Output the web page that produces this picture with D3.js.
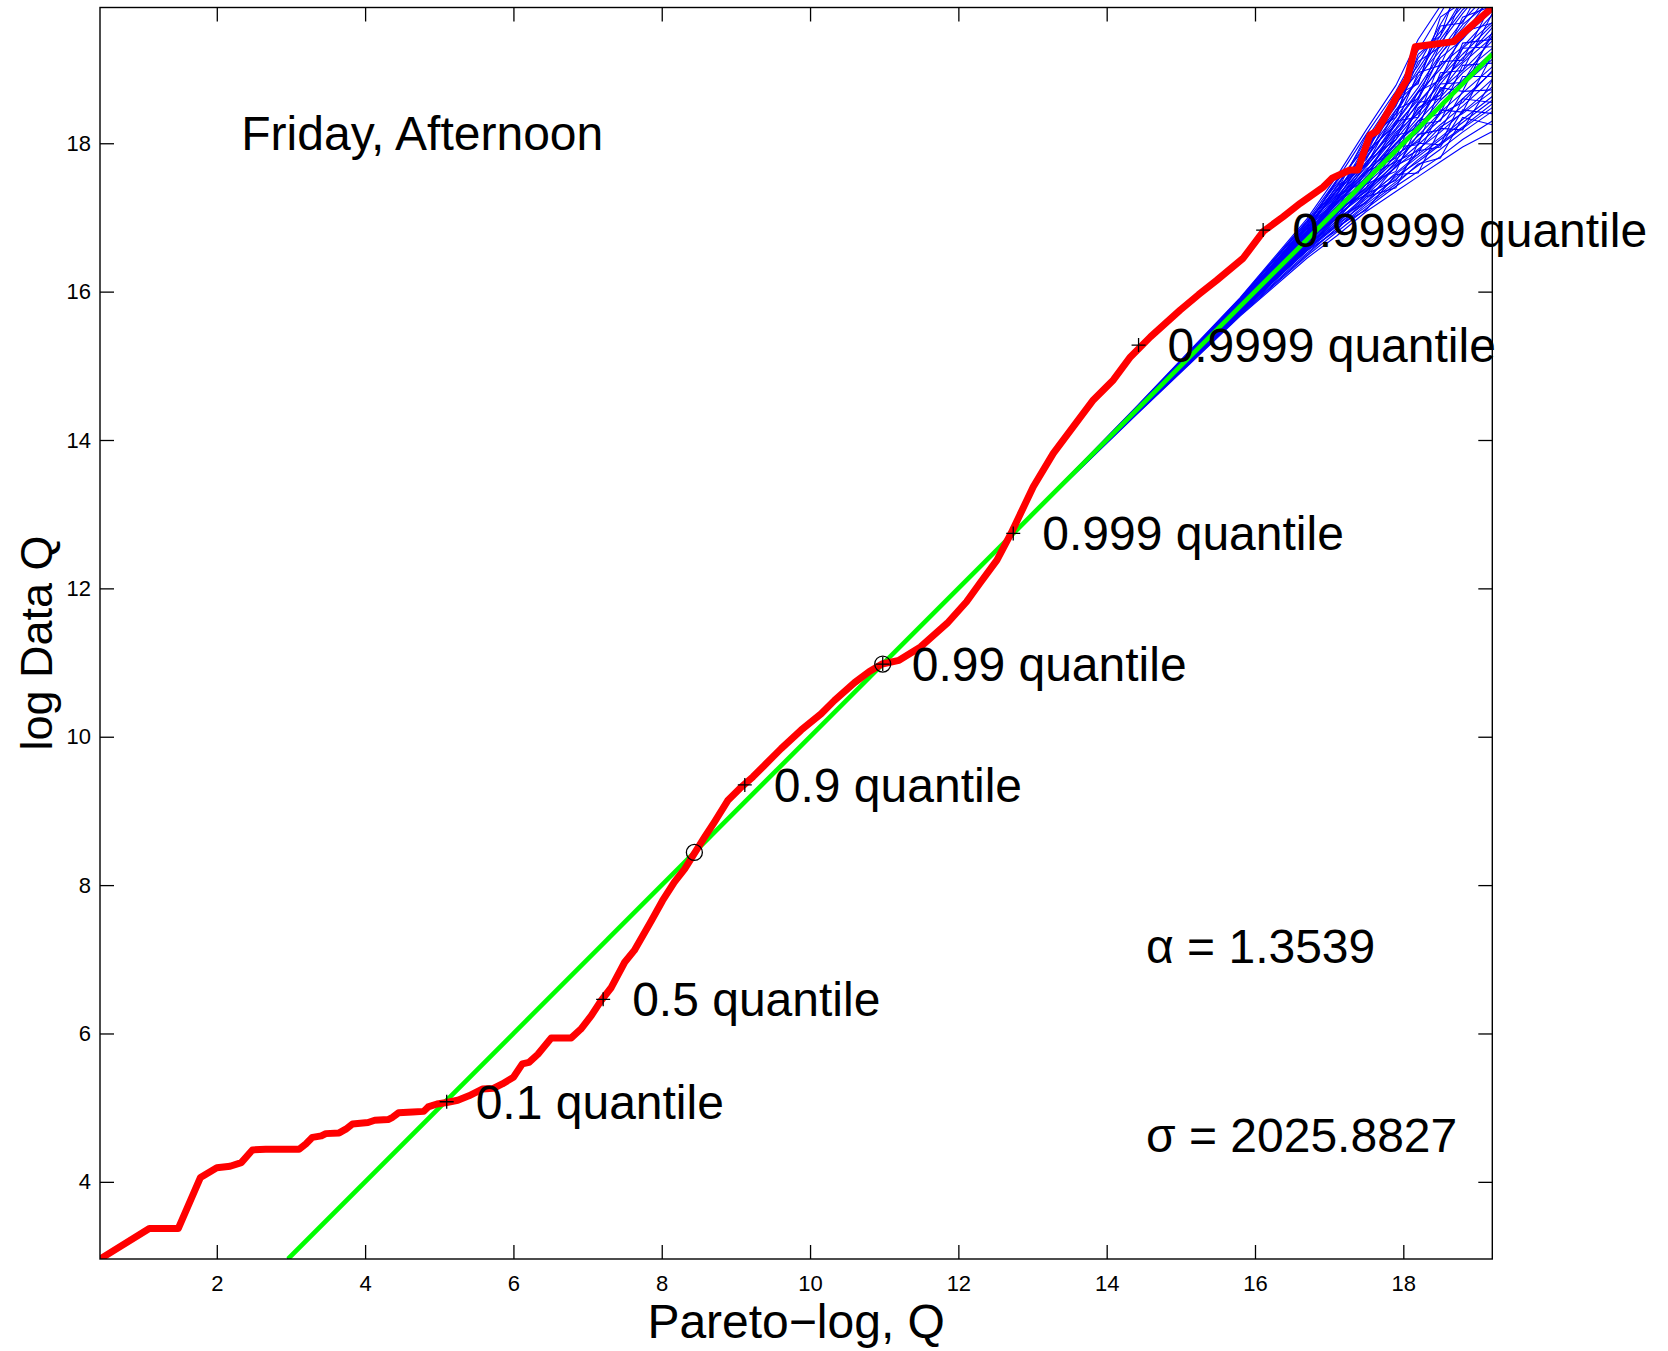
<!DOCTYPE html>
<html>
<head>
<meta charset="utf-8">
<script src="https://cdn.jsdelivr.net/npm/d3@7"></script>
<style>
  body { margin: 0; background: #fff; }
  svg { display: block; font-family: "Liberation Sans", Arial, Helvetica, sans-serif; }
  .tick text { font-size: 22px; fill: #000; }
  .tick line { stroke: #000; stroke-width: 1.3; }
  .big { font-size: 48px; fill: #000; }
</style>
</head>
<body>
<div id="chart"></div>
<script>
// Axis ticks and limits
const xTicks = [2, 4, 6, 8, 10, 12, 14, 16, 18];
const yTicks = [4, 6, 8, 10, 12, 14, 16, 18];
const xLimits = [0.425, 19.2];
const yLimits = [2.96, 19.83];

// Observed data (red)
const redX = [0.425, 1.09, 1.48, 1.78, 2.0, 2.18, 2.33, 2.48, 2.66, 3.11, 3.2, 3.29, 3.41, 3.47, 3.65, 3.74, 3.83,
  4.04, 4.13, 4.31, 4.37, 4.45, 4.64, 4.79, 4.85, 4.97, 5.1, 5.25, 5.4, 5.58, 5.73, 5.85, 6.0, 6.12, 6.21, 6.33,
  6.51, 6.78, 6.91, 7.05, 7.18, 7.32, 7.5, 7.63, 7.86, 8.01, 8.17, 8.31, 8.43, 8.58, 8.71, 8.89, 9.05, 9.23, 9.38,
  9.61, 9.88, 10.15, 10.33, 10.6, 10.8, 10.97, 11.2, 11.49, 11.85, 12.11, 12.29, 12.52, 12.71, 13.01, 13.28, 13.55,
  13.82, 14.09, 14.32, 14.59, 14.99, 15.24, 15.48, 15.84, 16.11, 16.38, 16.61, 16.92, 17.04, 17.28, 17.39, 17.44,
  17.55, 17.64, 17.73, 17.91, 18.05, 18.16, 18.68, 19.2];
const redY = [2.96, 3.37, 3.37, 4.06, 4.19, 4.21, 4.26, 4.43, 4.44, 4.44, 4.51, 4.6, 4.62, 4.65, 4.66, 4.71, 4.78,
  4.8, 4.83, 4.84, 4.87, 4.93, 4.94, 4.95, 5.01, 5.05, 5.07, 5.1, 5.16, 5.25, 5.26, 5.32, 5.41, 5.59, 5.61, 5.72,
  5.94, 5.94, 6.06, 6.24, 6.44, 6.62, 6.96, 7.12, 7.52, 7.79, 8.04, 8.22, 8.41, 8.65, 8.85, 9.14, 9.3, 9.46, 9.61,
  9.84, 10.09, 10.31, 10.49, 10.73, 10.88, 10.98, 11.03, 11.21, 11.53, 11.82, 12.07, 12.38, 12.74, 13.37, 13.82, 14.18,
  14.54, 14.81, 15.12, 15.39, 15.75, 15.96, 16.15, 16.45, 16.81, 17.01, 17.19, 17.41, 17.53, 17.64, 17.64, 17.8,
  18.11, 18.16, 18.31, 18.63, 18.86, 19.3, 19.37, 19.83];

// Reference line (green)
const fitX = [2.96, 19.2];
const fitY = [2.96, 19.2];

// Simulated samples (blue), all sharing the same x positions
const blueX = [2.96, 12.7, 14.4, 15.8, 16.7, 17.1, 17.5, 17.9, 18.2, 18.5, 18.8, 19.2];
const blueY = [
  [2.96, 12.7, 14.45, 15.92, 16.98, 17.55, 18.18, 18.78, 19.40, 19.85, 20.20, 20.68],
  [2.96, 12.7, 14.43, 15.90, 16.92, 17.40, 18.05, 18.65, 19.05, 19.60, 20.10, 20.38],
  [2.96, 12.7, 14.44, 15.88, 16.88, 17.48, 17.95, 18.50, 19.15, 19.50, 19.85, 20.28],
  [2.96, 12.7, 14.42, 15.86, 16.85, 17.35, 17.90, 18.60, 18.95, 19.40, 19.80, 20.13],
  [2.96, 12.7, 14.43, 15.89, 16.82, 17.30, 17.85, 18.40, 18.90, 19.25, 19.65, 20.08],
  [2.96, 12.7, 14.41, 15.85, 16.84, 17.38, 17.80, 18.35, 18.75, 19.20, 19.60, 19.93],
  [2.96, 12.7, 14.42, 15.87, 16.80, 17.25, 17.82, 18.30, 18.70, 19.15, 19.40, 19.88],
  [2.96, 12.7, 14.41, 15.84, 16.78, 17.28, 17.72, 18.28, 18.68, 19.00, 19.42, 19.78],
  [2.96, 12.7, 14.42, 15.86, 16.81, 17.22, 17.75, 18.20, 18.62, 19.05, 19.30, 19.73],
  [2.96, 12.7, 14.40, 15.83, 16.77, 17.24, 17.68, 18.18, 18.52, 18.90, 19.28, 19.63],
  [2.96, 12.7, 14.41, 15.85, 16.79, 17.20, 17.70, 18.12, 18.55, 18.88, 19.20, 19.60],
  [2.96, 12.7, 14.40, 15.82, 16.75, 17.18, 17.62, 18.10, 18.45, 18.80, 19.15, 19.48],
  [2.96, 12.7, 14.41, 15.84, 16.76, 17.20, 17.58, 18.05, 18.42, 18.70, 19.08, 19.43],
  [2.96, 12.7, 14.40, 15.81, 16.73, 17.15, 17.60, 18.00, 18.35, 18.72, 18.98, 19.38],
  [2.96, 12.7, 14.39, 15.82, 16.74, 17.12, 17.55, 17.98, 18.30, 18.62, 18.95, 19.28],
  [2.96, 12.7, 14.40, 15.79, 16.71, 17.14, 17.52, 17.95, 18.22, 18.58, 18.85, 19.23],
  [2.96, 12.7, 14.39, 15.80, 16.68, 17.10, 17.46, 17.90, 18.15, 18.50, 18.78, 19.13],
  [2.96, 12.7, 14.41, 15.78, 16.66, 17.04, 17.45, 17.82, 18.10, 18.42, 18.68, 19.03],
  [2.96, 12.7, 14.39, 15.77, 16.64, 17.05, 17.40, 17.78, 18.05, 18.32, 18.60, 18.96],
  [2.96, 12.7, 14.38, 15.76, 16.62, 16.98, 17.38, 17.72, 17.98, 18.25, 18.50, 18.86],
  [2.96, 12.7, 14.39, 15.75, 16.60, 16.95, 17.30, 17.68, 17.92, 18.15, 18.42, 18.76],
  [2.96, 12.7, 14.38, 15.74, 16.58, 16.92, 17.25, 17.60, 17.85, 18.08, 18.32, 18.63],
  [2.96, 12.7, 14.37, 15.72, 16.55, 16.88, 17.22, 17.52, 17.78, 18.00, 18.22, 18.53],
  [2.96, 12.7, 14.36, 15.70, 16.52, 16.85, 17.18, 17.48, 17.70, 17.92, 18.15, 18.43],
  [2.96, 12.7, 14.35, 15.68, 16.48, 16.80, 17.12, 17.42, 17.62, 17.82, 18.05, 18.30],
  [2.96, 12.7, 14.34, 15.67, 16.45, 16.75, 17.08, 17.35, 17.55, 17.75, 17.95, 18.16],
  [2.96, 12.7, 14.42, 15.88, 16.86, 17.42, 18.00, 18.52, 19.00, 19.45, 19.95, 20.43],
  [2.96, 12.7, 14.37, 15.78, 16.60, 17.02, 17.32, 17.75, 17.90, 18.22, 18.40, 18.70],
  [2.96, 12.7, 14.43, 15.84, 16.70, 17.25, 17.62, 18.15, 18.40, 18.85, 19.10, 19.56],
  [2.96, 12.7, 14.38, 15.83, 16.65, 17.08, 17.35, 17.85, 18.02, 18.40, 18.55, 18.98],
  [2.96, 12.7, 14.44, 15.91, 16.95, 17.50, 18.12, 18.70, 19.25, 19.75, 20.25, 20.78],
  [2.96, 12.7, 14.36, 15.71, 16.56, 16.90, 17.20, 17.55, 17.75, 17.98, 18.20, 18.48],
  [2.96, 12.7, 14.41, 15.87, 16.90, 17.32, 17.92, 18.45, 18.85, 19.35, 19.75, 20.23],
  [2.96, 12.7, 14.38, 15.73, 16.61, 16.92, 17.28, 17.58, 17.82, 18.05, 18.28, 18.58],
  [2.96, 12.7, 14.42, 15.86, 16.90, 17.30, 17.98, 18.40, 19.10, 19.30, 19.95, 20.10],
  [2.96, 12.7, 14.40, 15.84, 16.80, 17.42, 17.70, 18.45, 18.60, 19.35, 19.45, 20.00],
  [2.96, 12.7, 14.41, 15.88, 16.86, 17.22, 17.88, 18.25, 18.95, 19.05, 19.70, 19.85],
  [2.96, 12.7, 14.39, 15.82, 16.78, 17.10, 17.75, 18.05, 18.70, 18.85, 19.50, 19.62],
  [2.96, 12.7, 14.40, 15.83, 16.72, 17.28, 17.50, 18.30, 18.35, 19.10, 19.12, 19.90],
  [2.96, 12.7, 14.38, 15.79, 16.70, 16.98, 17.62, 17.80, 18.55, 18.60, 19.35, 19.40],
  [2.96, 12.7, 14.41, 15.80, 16.76, 17.05, 17.40, 18.10, 18.20, 18.95, 18.98, 19.75],
  [2.96, 12.7, 14.39, 15.76, 16.66, 17.12, 17.30, 17.95, 17.98, 18.75, 18.70, 19.50],
  [2.96, 12.7, 14.37, 15.75, 16.62, 16.95, 17.45, 17.62, 18.25, 18.30, 18.90, 18.90],
  [2.96, 12.7, 14.38, 15.74, 16.58, 17.00, 17.20, 17.70, 17.85, 18.45, 18.42, 19.20],
  [2.96, 12.7, 14.36, 15.72, 16.55, 16.82, 17.28, 17.40, 18.00, 17.98, 18.60, 18.55],
  [2.96, 12.7, 14.37, 15.70, 16.60, 16.88, 17.10, 17.58, 17.60, 18.20, 18.18, 18.85],
  [2.96, 12.7, 14.35, 15.69, 16.50, 16.85, 17.15, 17.45, 17.72, 17.80, 18.35, 18.25],
  [2.96, 12.7, 14.43, 15.90, 16.95, 17.35, 18.10, 18.35, 19.20, 19.45, 20.30, 20.50],
  [2.96, 12.7, 14.44, 15.89, 16.93, 17.45, 17.85, 18.65, 18.80, 19.70, 19.90, 20.60],
  [2.96, 12.7, 14.42, 15.87, 16.88, 17.50, 17.78, 18.55, 18.82, 19.58, 19.62, 20.40],
  [2.96, 12.7, 14.40, 15.85, 16.74, 17.18, 17.65, 17.92, 18.48, 18.65, 19.28, 19.30],
  [2.96, 12.7, 14.39, 15.81, 16.69, 17.08, 17.55, 17.75, 18.30, 18.40, 19.05, 19.08],
  [2.96, 12.7, 14.41, 15.83, 16.72, 17.20, 17.48, 18.00, 18.25, 18.80, 18.82, 19.45],
  [2.96, 12.7, 14.38, 15.78, 16.64, 17.02, 17.36, 17.68, 18.12, 18.18, 18.70, 18.72],
  [2.96, 12.7, 14.36, 15.73, 16.57, 16.90, 17.32, 17.50, 17.90, 17.95, 18.45, 18.40],
  [2.96, 12.7, 14.40, 15.86, 16.82, 17.36, 17.72, 18.25, 18.58, 19.20, 19.55, 20.05]
];

// Quantile markers
const quantileNames = ["0.1 quantile", "0.5 quantile", "0.9 quantile", "0.99 quantile",
  "0.999 quantile", "0.9999 quantile", "0.99999 quantile"];
const quantileX = [5.10, 7.21, 9.12, 10.98, 12.74, 14.43, 16.11];
const quantileY = [5.08, 6.46, 9.35, 10.98, 12.74, 15.28, 16.83];
const circleX = [8.44, 10.98];
const circleY = [8.44, 10.98];

// Annotations
const titleText = "Friday, Afternoon";
const titlePos = [2.33, 18.14];
const paramTexts = ["\u03b1 = 1.3539", "\u03c3 = 2025.8827"];
const paramPos = [[14.53, 7.18], [14.53, 4.63]];

// Graph dimensions
const dimensions = {
    width: 1668,
    height: 1351,
    margins: { top: 7.5, right: 175.7, bottom: 92, left: 100 },
};
dimensions.boundedWidth = dimensions.width - dimensions.margins.left - dimensions.margins.right;
dimensions.boundedHeight = dimensions.height - dimensions.margins.top - dimensions.margins.bottom;

const xScale = d3.scaleLinear().domain(xLimits).range([0, dimensions.boundedWidth]);
const yScale = d3.scaleLinear().domain(yLimits).range([dimensions.boundedHeight, 0]);

const svg = d3.select("#chart")
    .append("svg")
    .attr("width", dimensions.width)
    .attr("height", dimensions.height);

const bounds = svg.append("g")
    .attr("transform", `translate(${dimensions.margins.left}, ${dimensions.margins.top})`);

bounds.append("clipPath")
    .attr("id", "plot-clip")
    .append("rect")
    .attr("width", dimensions.boundedWidth)
    .attr("height", dimensions.boundedHeight);

// Axes with inward ticks on all four sides
const tickLen = 14;
bounds.append("g")
    .attr("transform", `translate(0, ${dimensions.boundedHeight})`)
    .call(d3.axisBottom(xScale).tickValues(xTicks).tickSizeInner(-tickLen).tickSizeOuter(0).tickPadding(16.5))
    .call(g => g.select(".domain").remove());
bounds.append("g")
    .call(d3.axisTop(xScale).tickValues(xTicks).tickSizeInner(-tickLen).tickSizeOuter(0).tickFormat(""))
    .call(g => g.select(".domain").remove());
bounds.append("g")
    .call(d3.axisLeft(yScale).tickValues(yTicks).tickSizeInner(-tickLen).tickSizeOuter(0).tickPadding(9))
    .call(g => g.select(".domain").remove());
bounds.append("g")
    .attr("transform", `translate(${dimensions.boundedWidth}, 0)`)
    .call(d3.axisRight(yScale).tickValues(yTicks).tickSizeInner(-tickLen).tickSizeOuter(0).tickFormat(""))
    .call(g => g.select(".domain").remove());

// Lines
const plot = bounds.append("g").attr("clip-path", "url(#plot-clip)");
const lineGen = d3.line().x(d => xScale(d[0])).y(d => yScale(d[1]));

plot.selectAll("path.sim")
    .data(blueY)
    .enter().append("path")
    .attr("class", "sim")
    .attr("d", ys => lineGen(ys.map((y, i) => [blueX[i], y])))
    .attr("fill", "none")
    .attr("stroke", "#0000ff")
    .attr("stroke-width", 1.1);

plot.append("path")
    .attr("d", lineGen(fitX.map((x, i) => [x, fitY[i]])))
    .attr("fill", "none")
    .attr("stroke", "#00ff00")
    .attr("stroke-width", 4.6);

plot.append("path")
    .attr("d", lineGen(redX.map((x, i) => [x, redY[i]])))
    .attr("fill", "none")
    .attr("stroke", "#ff0000")
    .attr("stroke-width", 7)
    .attr("stroke-linejoin", "round");

// Markers
const plusSize = 7;
const plusGroup = bounds.append("g").attr("stroke", "#000").attr("stroke-width", 1.3);
quantileX.forEach((x, i) => {
    const px = xScale(x), py = yScale(quantileY[i]);
    plusGroup.append("path")
        .attr("d", `M${px - plusSize},${py}H${px + plusSize}M${px},${py - plusSize}V${py + plusSize}`);
});
bounds.selectAll("circle.mark")
    .data(circleX)
    .enter().append("circle")
    .attr("class", "mark")
    .attr("cx", d => xScale(d))
    .attr("cy", (d, i) => yScale(circleY[i]))
    .attr("r", 8)
    .attr("fill", "none")
    .attr("stroke", "#000")
    .attr("stroke-width", 1.3);

// Quantile labels
bounds.selectAll("text.qlabel")
    .data(quantileNames)
    .enter().append("text")
    .attr("class", "qlabel big")
    .attr("x", (d, i) => xScale(quantileX[i]) + 29)
    .attr("y", (d, i) => yScale(quantileY[i]) + 17)
    .text(d => d);

// Title and parameter texts
bounds.append("text")
    .attr("class", "big")
    .attr("x", xScale(titlePos[0]))
    .attr("y", yScale(titlePos[1]) + 17)
    .text(titleText);

bounds.selectAll("text.param")
    .data(paramTexts)
    .enter().append("text")
    .attr("class", "param big")
    .attr("x", (d, i) => xScale(paramPos[i][0]))
    .attr("y", (d, i) => yScale(paramPos[i][1]) + 17)
    .text(d => d);

// Axis box
bounds.append("rect")
    .attr("width", dimensions.boundedWidth)
    .attr("height", dimensions.boundedHeight)
    .attr("fill", "none")
    .attr("stroke", "#000")
    .attr("stroke-width", 1.4);

// Axis labels
svg.append("text")
    .attr("class", "big")
    .attr("x", dimensions.margins.left + dimensions.boundedWidth / 2)
    .attr("y", 1338)
    .attr("text-anchor", "middle")
    .text("Pareto\u2212log, Q");

svg.append("text")
    .attr("class", "big")
    .style("font-size", "45px")
    .attr("transform", "translate(52, 643) rotate(-90)")
    .attr("text-anchor", "middle")
    .text("log Data Q");
</script>
</body>
</html>
